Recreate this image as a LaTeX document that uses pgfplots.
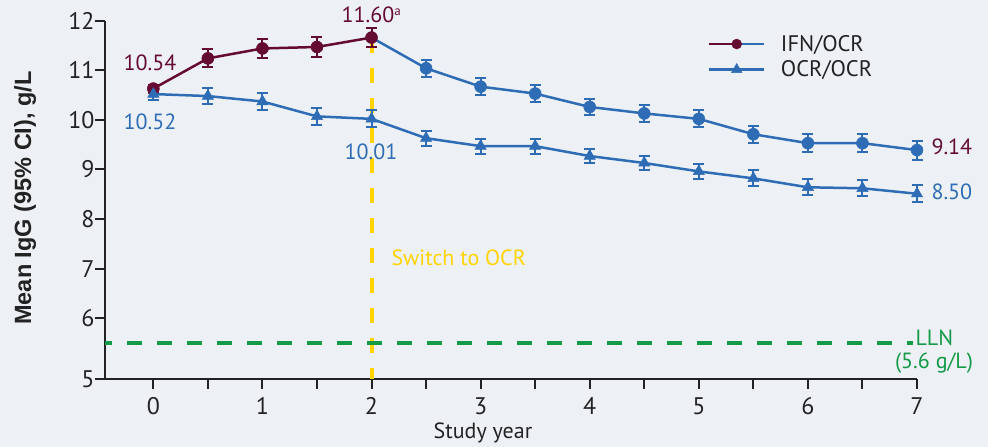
\documentclass[border=0pt]{standalone}
\usepackage{pgfplots}
\pgfplotsset{compat=1.18}
\usepackage{pgfplotstable}
\usepackage{fontspec}
\setmainfont{PT Sans}
\newfontfamily\ylabfont{Liberation Sans}

\definecolor{bg}{HTML}{EDF1F5}
\definecolor{ifn}{HTML}{650B32}
\definecolor{ocr}{HTML}{2E6DB6}
\definecolor{sw}{HTML}{FFD400}
\definecolor{lln}{HTML}{159A48}
\definecolor{ink}{HTML}{222222}

% IFN/OCR, years 0-2 (on IFN)
\pgfplotstableread{
x   y     e
0   10.63 0.08
0.5 11.24 0.18
1   11.44 0.19
1.5 11.47 0.20
2   11.66 0.20
}\ifnA
% IFN/OCR after the switch
\pgfplotstableread{
x   y     e
2   11.66 0
2.5 11.04 0.17
3   10.67 0.17
3.5 10.53 0.17
4   10.26 0.17
4.5 10.13 0.17
5   10.02 0.17
5.5 9.71  0.17
6   9.53  0.18
6.5 9.53  0.18
7   9.39  0.19
}\ifnB
% OCR/OCR
\pgfplotstableread{
x   y     e
0   10.52 0.12
0.5 10.48 0.17
1   10.37 0.17
1.5 10.07 0.17
2   10.02 0.17
2.5 9.63  0.15
3   9.47  0.15
3.5 9.47  0.15
4   9.27  0.15
4.5 9.13  0.15
5   8.96  0.15
5.5 8.82  0.16
6   8.64  0.16
6.5 8.62  0.16
7   8.51  0.17
}\ocrtab

\begin{document}
\begin{tikzpicture}[font=\fontsize{22}{26}\selectfont]
\fill[bg] (-105pt,-68pt) rectangle (883pt,379pt);
\begin{axis}[
    scale only axis,
    width=812pt, height=358.3pt,
    xmin=-0.443, xmax=7,
    ymin=5, ymax=12,
    % the 5-6 band is drawn a bit taller than the others
    y coord trafo/.code={\pgfmathparse{(#1<6)?(6-(6-#1)*1.2265):(#1)}},
    y coord inv trafo/.code={\pgfmathparse{(#1<6)?(6-(6-#1)/1.2265):(#1)}},
    axis x line=bottom, axis y line=left,
    axis line style={-, line width=2.5pt, ink},
    xtick={0,...,7},
    minor xtick={0.5,1.5,...,6.5},
    ytick={5,...,12},
    tick align=outside,
    major tick length=10pt, minor tick length=10pt,
    tick style={line width=2pt, ink},
    ticklabel style={font=\fontsize{24}{28}\selectfont, text=ink},
    xticklabel style={yshift=-5pt},
    yticklabel style={xshift=3pt},
    /pgf/number format/assume math mode=true,
    clip=false,
    legend style={at={(axis description cs:0.738,0.971)}, anchor=north west,
        draw=none, fill=none, font=\fontsize{22.5}{26}\selectfont, text=ink,
        row sep=4pt,
        /tikz/every odd column/.append style={column sep=14pt}},
    legend cell align=left,
]
% reference lines
\addplot[sw, line width=4pt, dash pattern=on 15pt off 15pt, forget plot]
    coordinates {(2,11.66) (2,5)};
\addplot[lln, line width=4pt, dash pattern=on 15pt off 15pt, dash phase=8.3pt, forget plot]
    coordinates {(-0.443,5.6) (6.963,5.6)};

% IFN/OCR after switch (blue)
\addplot[ocr, line width=2.5pt, mark=*, mark size=6pt, mark phase=2, mark repeat=1,
    mark options={line width=0.5pt}, forget plot,
    error bars/.cd, y dir=both, y explicit,
    error bar style={line width=2pt},
    error mark options={rotate=90, mark size=5.5pt, line width=2pt}]
    table[x=x, y=y, y error=e] {\ifnB};
% IFN/OCR on IFN (maroon)
\addplot[ifn, line width=2.5pt, mark=*, mark size=6pt,
    mark options={line width=0.5pt}, forget plot,
    error bars/.cd, y dir=both, y explicit,
    error bar style={line width=2pt},
    error mark options={rotate=90, mark size=5.5pt, line width=2pt}]
    table[x=x, y=y, y error=e] {\ifnA};
% OCR/OCR
\addplot[ocr, line width=2.5pt, mark=triangle*, mark size=6.5pt,
    mark options={line width=0.5pt}, forget plot,
    error bars/.cd, y dir=both, y explicit,
    error bar style={line width=2pt},
    error mark options={rotate=90, mark size=5.5pt, line width=2pt}]
    table[x=x, y=y, y error=e] {\ocrtab};

\addlegendimage{legend image code/.code={
    \draw[ifn, line width=2.5pt] (0pt,0pt) -- (28pt,0pt);
    \draw[ocr, line width=2.5pt] (28pt,0pt) -- (55pt,0pt);
    \fill[ifn] (28pt,0pt) circle (5pt);}}
\addlegendentry{IFN/OCR}
\addlegendimage{legend image code/.code={
    \draw[ocr, line width=2.5pt] (0pt,0pt) -- (55pt,0pt);
    \draw[ocr, line width=0.5pt, mark=triangle*, mark size=6pt] plot coordinates {(28pt,0pt)};}}
\addlegendentry{OCR/OCR}
\end{axis}

% value labels
\node[text=ifn] at (45pt,316pt) {10.54};
\node[text=ocr] at (45pt,257pt) {10.52};
\node[text=ifn] at (263pt,364pt) {11.60\rlap{\fontsize{13}{15}\selectfont\raisebox{7pt}{a}}};
\node[text=ocr] at (266pt,227pt) {10.01};
\node[text=ifn, anchor=west] at (823pt,232pt) {9.14};
\node[text=ocr, anchor=west] at (823pt,187pt) {8.50};
\node[text=sw, anchor=west] at (283pt,121pt) {Switch to OCR};
\node[text=lln, anchor=west] at (807pt,41pt) {LLN};
\node[text=lln] at (829pt,16pt) {(5.6 g/L)};
% axis titles
\node[text=ink] at (378pt,-54pt) {Study year};
\node[text=ink, rotate=90] at (-80pt,181pt) {\ylabfont\bfseries\fontsize{23.5}{27}\selectfont Mean IgG (95\% CI), g/L};
\end{tikzpicture}
\end{document}
